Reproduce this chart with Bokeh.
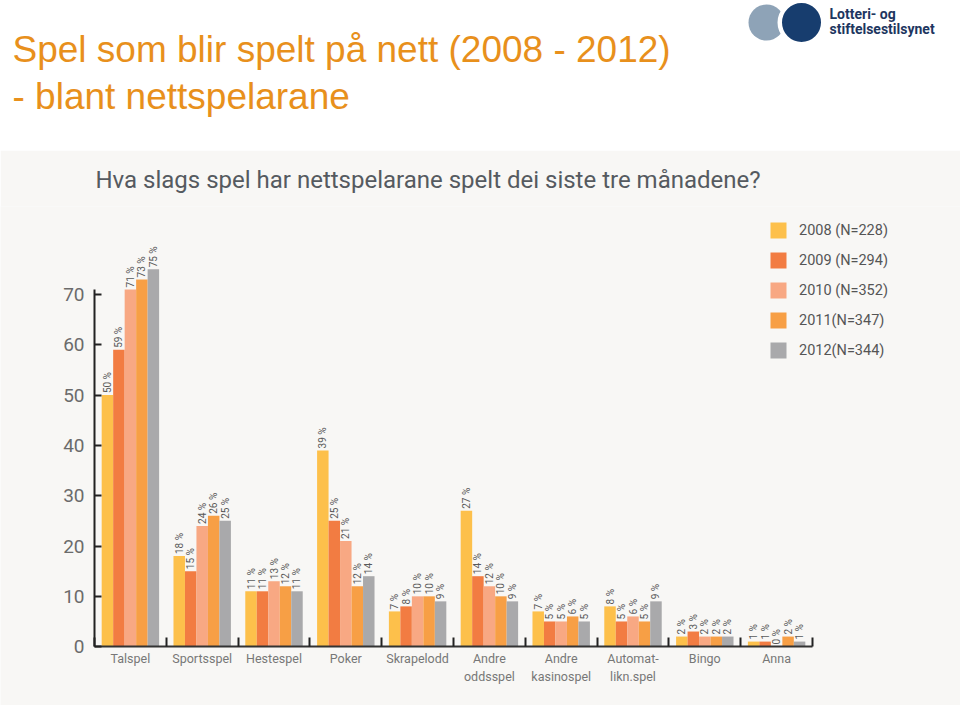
from math import pi
from bokeh.plotting import figure
from bokeh.models import (ColumnDataSource, FixedTicker, Legend, LegendItem,
                          LinearAxis, Range1d)
from bokeh.layouts import column
from bokeh.core.properties import value
from bokeh.embed import file_html
from bokeh.resources import INLINE

# ---------------- data ----------------
categories = ["Talspel", "Sportsspel", "Hestespel", "Poker", "Skrapelodd",
              "Andre\noddsspel", "Andre\nkasinospel", "Automat-\nlikn.spel",
              "Bingo", "Anna"]
years = ["2008 (N=228)", "2009 (N=294)", "2010 (N=352)", "2011(N=347)", "2012(N=344)"]
v2008 = [50, 18, 11, 39, 7, 27, 7, 8, 2, 1]
v2009 = [59, 15, 11, 25, 8, 14, 5, 5, 3, 1]
v2010 = [71, 24, 13, 21, 10, 12, 5, 6, 2, 0]
v2011 = [73, 26, 12, 12, 10, 10, 6, 5, 2, 2]
v2012 = [75, 25, 11, 14, 9, 9, 5, 9, 2, 1]
y_ticks = [0, 10, 20, 30, 40, 50, 60, 70]

series = [v2008, v2009, v2010, v2011, v2012]
colors = ["#fdc04b", "#f27c42", "#f8a883", "#f79f45", "#a9a9ab"]

title_lines = ["Spel som blir spelt på nett (2008 - 2012)", "- blant nettspelarane"]
chart_title = "Hva slags spel har nettspelarane  spelt dei siste tre månadene?"
logo_lines = ["Lotteri- og", "stiftelsestilsynet"]

BG = "#f8f7f5"
W = 960

# ---------------- header figure (1 data unit = 1 px) ----------------
t = figure(width=W, height=150, x_range=(0, W), y_range=(150, 0),
           output_backend="svg", toolbar_location=None,
           x_axis_location=None, y_axis_location=None, min_border=0,
           outline_line_color=None, background_fill_color="white",
           border_fill_color="white")
t.grid.visible = False

t.text(x=[12, 12], y=[49, 96], text=title_lines,
       text_font=value("Liberation Sans"), text_font_size="37px",
       text_color="#e8901c", text_baseline="middle", text_align="left")

# logo
t.circle(x=[766], y=[22], radius=18, fill_color="#8ea3b7", line_color=None)
t.circle(x=[799], y=[22], radius=22, fill_color="white", line_color=None)
t.circle(x=[801], y=[22], radius=19.5, fill_color="#173d6e", line_color=None)
t.text(x=[829, 829], y=[13, 28], text=logo_lines,
       text_font=value("Roboto"), text_font_size="14px", text_font_style="bold",
       text_color="#1d3660", text_baseline="middle", text_align="left")

# ---------------- chart figure ----------------
# frame spans the full width and down to the bottom edge;
# 1 category = 71.8 px (category 0 starts at x=94 px), 1 % = 5.04 px
unit = 71.8
ypx = 5.04
x_start = -94 / unit
x_end = (W - 94) / unit
p = figure(width=W, height=555, x_range=Range1d(x_start, x_end),
           y_range=Range1d(-59 / ypx, 87.5),
           output_backend="svg", toolbar_location=None,
           x_axis_location=None, y_axis_location=None,
           min_border_left=0, min_border_right=0,
           min_border_top=55, min_border_bottom=0,
           background_fill_color=BG, border_fill_color=BG,
           outline_line_color=None, title=chart_title)
p.grid.visible = False

p.title.text_font = "Roboto"
p.title.text_font_size = "24px"
p.title.text_font_style = "normal"
p.title.text_color = "#555a60"
p.title.align = "left"
p.title.offset = 95
p.title.standoff = 26

n = len(categories)
bw = 0.16
items = []
for j, (yr, vals, col) in enumerate(zip(years, series, colors)):
    src = ColumnDataSource(dict(
        x=[i + 0.5 + (j - 2) * bw for i in range(n)],
        top=vals,
        label=[f"{v} %" for v in vals]))
    r = p.vbar(x="x", top="top", bottom=0, width=bw, source=src,
               fill_color=col, line_color=None)
    p.text(x="x", y="top", text="label", source=src, angle=pi / 2,
           text_align="left", text_baseline="middle",
           text_font=value("Roboto"), text_font_size="10px",
           text_color="#5a5a5a", y_offset=-2)
    items.append(LegendItem(label=yr, renderers=[r]))

legend = Legend(items=items, location=(768, 345), orientation="vertical",
                glyph_width=20, glyph_height=20, label_height=20,
                spacing=10, padding=0, margin=0, label_standoff=11,
                label_text_font="Roboto", label_text_font_size="14.5px",
                label_text_color="#555555", border_line_color=None,
                background_fill_alpha=0)
p.add_layout(legend)

# x axis, drawn at y = 0
xa = LinearAxis(fixed_location=0,
                ticker=FixedTicker(ticks=[i + 0.5 for i in range(n)],
                                   minor_ticks=list(range(n + 1))),
                bounds=(0, n))
xa.major_label_overrides = {i + 0.5: c for i, c in enumerate(categories)}
xa.axis_line_width = 2
xa.axis_line_color = "#333333"
xa.major_tick_in = 0
xa.major_tick_out = 0
xa.minor_tick_in = 9
xa.minor_tick_out = 0
xa.minor_tick_line_width = 2
xa.minor_tick_line_color = "#222222"
xa.major_label_standoff = 4
xa.major_label_text_font = "Roboto"
xa.major_label_text_font_size = "12.5px"
xa.major_label_text_color = "#777777"
p.add_layout(xa, "below")

# y axis, drawn at x = 0 (start of first category)
ya = LinearAxis(fixed_location=0, ticker=FixedTicker(ticks=y_ticks),
                bounds=(0, 71))
ya.axis_line_width = 2
ya.axis_line_color = "#222222"
ya.major_tick_in = 7
ya.major_tick_out = 0
ya.major_tick_line_width = 2
ya.major_tick_line_color = "#222222"
ya.minor_tick_in = 0
ya.minor_tick_out = 0
ya.major_label_standoff = 10
ya.major_label_text_font = "Roboto"
ya.major_label_text_font_size = "19px"
ya.major_label_text_color = "#6b6b6b"
p.add_layout(ya, "left")

layout = column(t, p, spacing=0)
open("out.html", "w").write(file_html(layout, INLINE))
